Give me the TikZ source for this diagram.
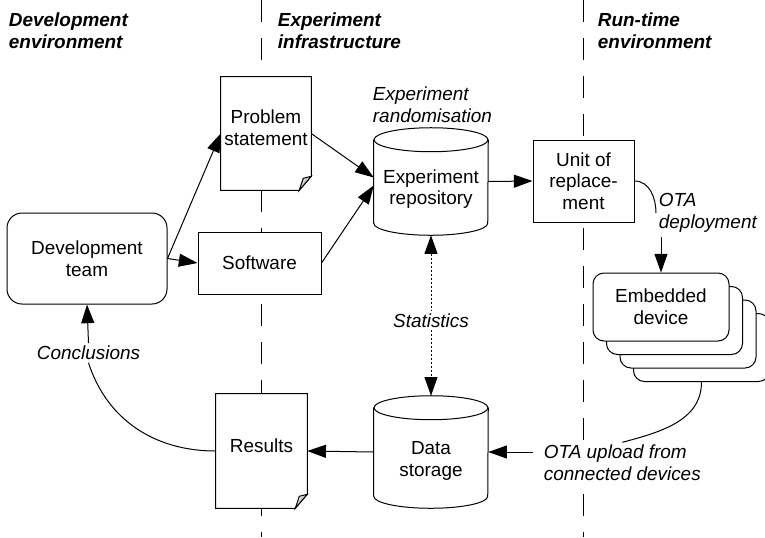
\documentclass[tikz,border=0pt]{standalone}
\usepackage{fontspec}
\setmainfont{Liberation Sans}
\usetikzlibrary{arrows.meta,calc}
\begin{document}
\begin{tikzpicture}[x=0.75pt,y=0.75pt,
  every node/.style={font=\fontsize{14.2}{16.2}\selectfont, align=center, inner sep=2pt},
  line/.style={line width=0.75pt},
  tip/.tip={Triangle[length=14pt,width=9.75pt]},
  arr/.style={line width=0.75pt, -tip},
  lane/.style={line width=0.75pt, dash pattern=on 16.5pt off 12pt},
  stat/.style={line width=0.75pt, dash pattern=on 1.5pt off 1.5pt, tip-tip},
  plainbox/.style={draw, line width=0.75pt, fill=white},
  shell/.style={fill=white, inner sep=0pt},
  devicebox/.style={plainbox, rounded corners=8.25pt, minimum width=102pt, minimum height=51pt},
  hdr/.style={font=\fontsize{14.2}{16.2}\selectfont\bfseries\itshape, align=left, anchor=west},
  note/.style={font=\fontsize{14.2}{16.2}\selectfont\itshape},
]
\useasboundingbox (0,0) rectangle (765,-537);

% swim-lane separators
\draw[lane] (261,0) -- (261,-537);
\draw[lane] (583,0) -- (583,-537);

% lane headings
\node[hdr] (hdev) at (6,-31) {Development\\environment};
\node[hdr] (hexp) at (275,-31) {Experiment\\infrastructure};
\node[hdr] (hrun) at (595,-31) {Run-time\\environment};

% development environment
\node[plainbox, rounded corners=11.25pt, minimum width=120pt, minimum height=68.25pt]
  (dev) at (87,-258.5) {Development\\team};
\node[note] (concl) at (88.5,-353) {Conclusions};

% experiment infrastructure
\node[shell, minimum width=67.5pt, minimum height=84.75pt,
  label={[yshift=4.5pt]center:Problem\\statement}] (ps) at (266,-133.5) {};
\node[plainbox, minimum width=92.25pt, minimum height=46.5pt] (sw) at (259.5,-263) {Software};
\node[shell, minimum width=68.25pt, minimum height=85.5pt,
  label={[yshift=3.75pt]center:Results}] (res) at (261.5,-451) {};
\node[shell, minimum width=85.5pt, minimum height=80.25pt,
  label={[yshift=-5.6pt]center:Experiment\\repository}] (repo) at (431,-181.5) {};
\node[shell, minimum width=85.5pt, minimum height=84pt,
  label={[yshift=-6.75pt]center:Data\\storage}] (ds) at (431,-452) {};
\node[note, align=left, anchor=west] (rand) at (370,-105) {Experiment\\randomisation};

% documents with a folded corner
\foreach \n in {ps,res}{
  \draw[line] (\n.north west) -- (\n.north east) -- ($(\n.south east)+(0,14)$)
    -- ($(\n.south east)+(-12,0)$) -- (\n.south west) -- cycle;
  \draw[line, fill=gray!35] ($(\n.south east)+(0,14)$) -- ($(\n.south east)+(-8,12)$)
    -- ($(\n.south east)+(-12,0)$) -- cycle;
}
% databases
\foreach \n in {repo,ds}{
  \draw[line] ($(\n.north west)+(0,-12)$) -- ($(\n.south west)+(0,12)$)
    arc[start angle=180, end angle=360, x radius=57, y radius=12]
    -- ($(\n.north east)+(0,-12)$);
  \draw[line] ($(\n.north)+(0,-12)$) ellipse[x radius=57, y radius=12];
}

% run-time environment
\node[plainbox, minimum width=75.75pt, minimum height=61.5pt] (unit) at (583.5,-181) {Unit of\\replace-\\ment};
\node[note, align=left, anchor=west, fill=white] (otad) at (656,-213) {OTA\\deployment};
\coordinate (otatail) at (661,-237);
\node[devicebox] (emb3) at (701.5,-347.5) {};
\node[devicebox] (emb2) at (688,-334) {};
\node[devicebox] (emb1) at (674.5,-320.5) {};
\node[devicebox] (emb) at (661,-307) {Embedded\\device};
\node[note, align=left, anchor=west, fill=white] (upl) at (541,-463) {OTA upload from\\connected devices};

% connectors
\draw[arr] (dev.east) -- (ps.west);
\draw[arr] (dev.east) -- (sw.west);
\draw[arr] (ps.east) -- ($(repo.west)+(0,4)$);
\draw[arr] (sw.east) -- ($(repo.west)+(0,-4)$);
\draw[arr] (repo.east) -- (unit.west);
\draw[line] (unit.east) to[out=0,in=90] (otad.west);
\draw[arr] (otatail) -- (emb.north);
\draw[line] (emb3.south) to[out=-90,in=15] (upl.north);
\draw[arr, shorten <=6pt] (upl.west |- ds.east) -- (ds.east);
\draw[arr] (ds.west) -- (res.east);
\draw[line] (res.west) to[out=180,in=-72] (concl.south);
\draw[arr] (concl.north) -- (dev.south);
\draw[stat] (repo.south) -- node[note, fill=white, pos=0.53] (stats) {Statistics} (ds.north);
\end{tikzpicture}
\end{document}
